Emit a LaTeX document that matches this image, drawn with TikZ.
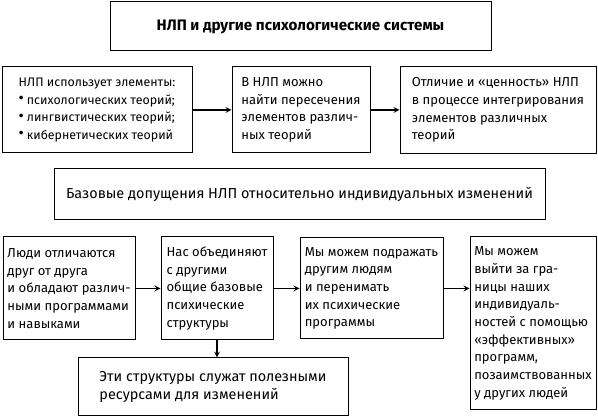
\documentclass[tikz,border=0pt]{standalone}
\usepackage{fontspec}
\setmainfont{Fira Sans}
\usetikzlibrary{arrows}
\tikzstyle{headbox} = [rectangle, line width=1pt, minimum width=381pt, minimum height=49pt, text centered, draw=black, font=\fontsize{15.2}{18}\selectfont\bfseries]
\tikzstyle{box} = [rectangle, line width=1pt, align=left, inner sep=0pt, draw=black, font=\fontsize{13}{17.7}\selectfont]
\tikzstyle{bigbox} = [box, align=center, font=\fontsize{14.4}{18}\selectfont]
\tikzstyle{arrow} = [line width=1.6pt,->,>=stealth]
\newcommand{\dotitem}{\raisebox{0.3pt}{\scalebox{1.3}{\textbullet}}\hspace{3pt}}

\begin{document}
\begin{tikzpicture}[x=1pt, y=-1pt, node distance=150pt]
\useasboundingbox (0,0) rectangle (598,419);

\node (title) [headbox] at (300.5,26.5) {НЛП и другие психологические системы};

\node (uses) [box, font=\fontsize{12.4}{17.5}\selectfont, minimum width=190pt, minimum height=86pt] at (97,110) {НЛП использует элементы:\\\dotitem психологических теорий;\\\dotitem лингвистических теорий;\\\dotitem кибернетических теорий};
\node (cross) [box, minimum width=138pt, minimum height=86pt, right of=uses, xshift=54pt] {В НЛП можно\\найти пересечения\\элементов различ-\\ных теорий};
\node (value) [box, minimum width=196pt, minimum height=87pt, right of=cross, xshift=47pt] {Отличие и «ценность» НЛП\\в процессе интегрирования\\элементов различных\\теорий};

\node (basic) [bigbox, minimum width=491pt, minimum height=51pt] at (299.5,194.5) {Базовые допущения НЛП относительно индивидуальных изменений};

\node (differ) [box, minimum width=132pt, minimum height=103pt] at (69,288.5) {Люди отличаются\\друг от друга\\и обладают различ-\\ными программами\\и навыками};
\node (unite) [box, minimum width=112pt, minimum height=103pt, right of=differ, xshift=-2pt] {Нас объединяют\\с другими\\общие базовые\\психические\\структуры};
\node (imitate) [box, minimum width=143pt, minimum height=101pt, right of=unite, xshift=4.5pt] {Мы можем подражать\\другим людям\\и перенимать\\их психические\\программы};
\node (beyond) [box, minimum width=126pt, minimum height=173pt, right of=imitate, xshift=11.5pt, yshift=-35pt] {Мы можем\\выйти за гра-\\ницы наших\\индивидуаль-\\ностей с помощью\\«эффективных»\\программ,\\позаимствованных\\у других людей};
\node (resource) [bigbox, align=left, minimum width=270pt, minimum height=58pt, below of=unite, xshift=-4pt, yshift=51.5pt] {Эти структуры служат полезными\\ресурсами для изменений};

\draw [arrow] (uses) -- (cross);
\draw [arrow] (cross) -- (value);
\draw [arrow] (differ) -- (unite);
\draw [arrow] (unite) -- (imitate);
\draw [arrow] (imitate.east) -- (imitate.east -| beyond.west);
\draw [arrow] (unite.south) -- (unite.south |- resource.north);

\end{tikzpicture}
\end{document}
